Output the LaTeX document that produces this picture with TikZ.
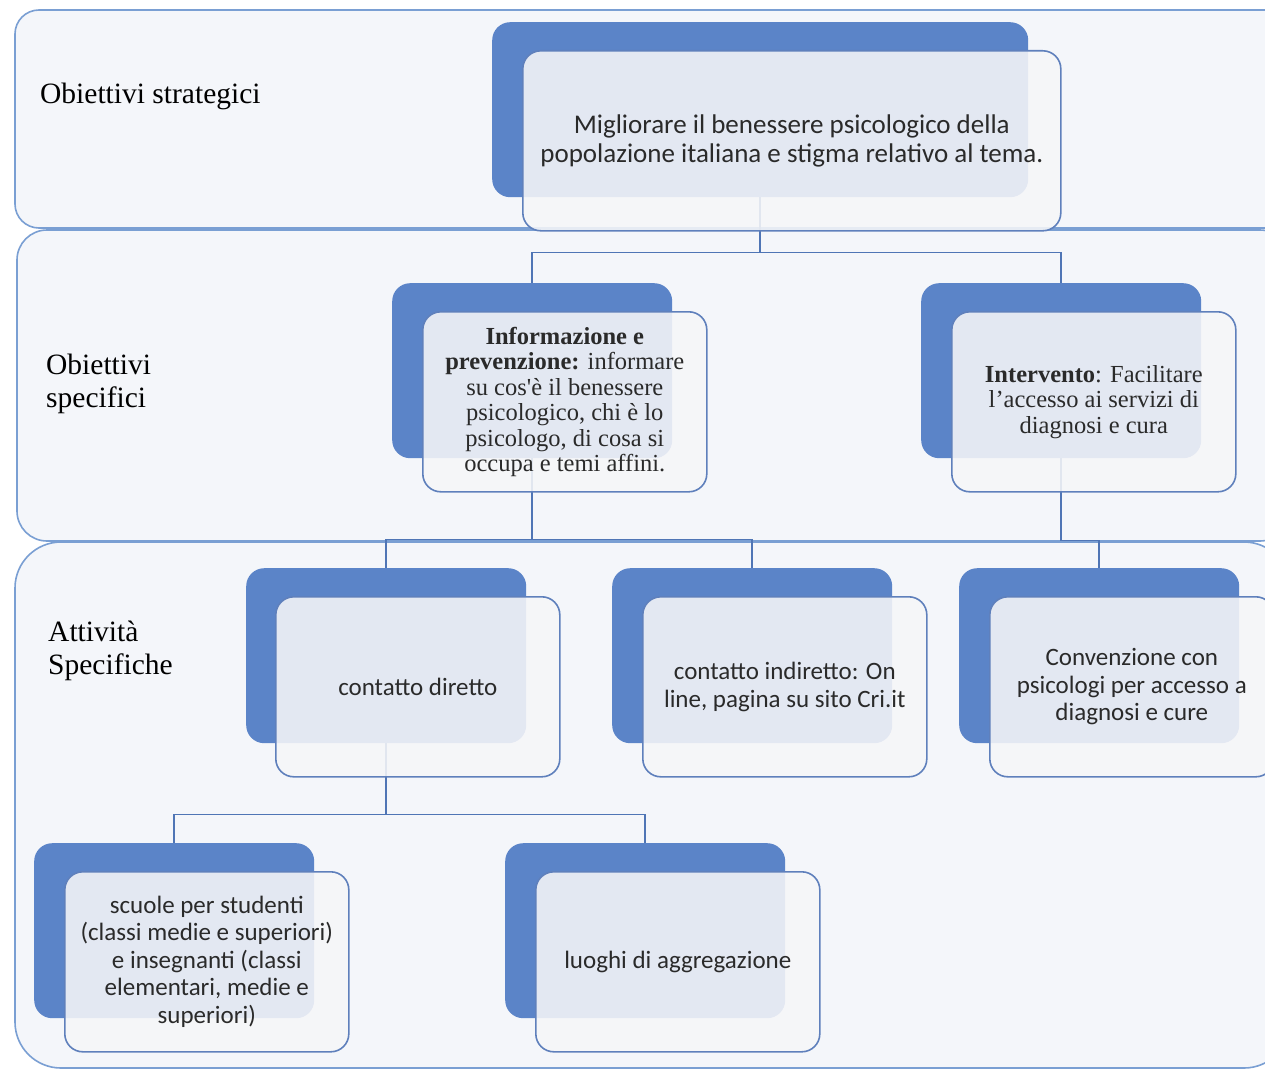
\documentclass[tikz,border=0pt]{standalone}
\usepackage{fontspec}
\setmainfont{Liberation Serif}
\newfontfamily\boxsans{Carlito}
\definecolor{bandfill}{HTML}{F4F6FA}
\definecolor{banddraw}{HTML}{7A9FD3}
\definecolor{darkblue}{HTML}{5B84C8}
\definecolor{frontfill}{HTML}{F6F6F8}
\definecolor{frontdraw}{HTML}{5F80BC}
\definecolor{connblue}{HTML}{4F75B5}
\definecolor{textgray}{HTML}{2A2A2A}
\begin{document}
\begin{tikzpicture}[x=1pt,y=-1pt,
  band/.style={draw=banddraw, fill=bandfill, line width=1.6pt, rounded corners=#1},
  darkbox/.style={fill=darkblue, draw=none, rounded corners=18pt, anchor=north west,
    minimum width=280pt, minimum height=175pt, inner sep=0pt},
  frontbox/.style={fill=frontfill, fill opacity=0.88, text opacity=1, draw=frontdraw,
    line width=1.6pt, rounded corners=18pt, anchor=north west,
    minimum width=284pt, minimum height=180pt, align=center, text=textgray, inner sep=0pt},
  conn/.style={draw=connblue, line width=1.8pt},
  levellabel/.style={anchor=west, align=left, text=black, inner sep=0pt,
    font=\fontsize{29.5}{33}\selectfont},
  serifbox/.style={font=\fontsize{24.5}{25.5}\selectfont},
  sansbox/.style={font=\boxsans\fontsize{25}{27.5}\selectfont}
]
\clip (0,0) rectangle (1265,1070);
\useasboundingbox (0,0) rectangle (1265,1070);
\fill[white] (0,0) rectangle (1265,1070);

% bands
\path[band=24pt] (15,10) rectangle (1290,228);
\path[band=30pt] (17,230) rectangle (1290,541);
\path[band=46pt] (15,542) rectangle (1290,1068);

% level labels
\node[levellabel, anchor=base west] (l1) at (40,103) {Obiettivi strategici};
\node[levellabel] (l2) at (46,384) {Obiettivi\\specifici};
\node[levellabel] (l3) at (48,651) {Attività\\Specifiche};

% dark back boxes
\node[darkbox, minimum width=536pt] (d1) at (492,22) {};
\node[darkbox] (d2) at (392,283) {};
\node[darkbox] (d3) at (921,283) {};
\node[darkbox] (d4) at (246,568) {};
\node[darkbox] (d5) at (612,568) {};
\node[darkbox] (d6) at (959,568) {};
\node[darkbox] (d7) at (34,843) {};
\node[darkbox] (d8) at (505,843) {};

% connectors
\draw[conn] (d1.south) -- ++(0,55) -| (d2.north);
\draw[conn] (d1.south) -- ++(0,55) -| (d3.north);
\draw[conn] (d2.south) -- ++(0,81) -| (d4.north);
\draw[conn] (d2.south) -- ++(0,81) -| (d5.north);
\draw[conn] (d3.south) -- ++(0,82) -| (d6.north);
\draw[conn] (d4.south) -- ++(0,71) -| (d7.north);
\draw[conn] (d4.south) -- ++(0,71) -| (d8.north);

% front boxes
\node[frontbox, minimum width=538pt, font=\boxsans\fontsize{27}{29}\selectfont] (f1) at (522,50)
  {Migliorare il benessere psicologico della\\popolazione italiana e stigma relativo al tema.};
\node[frontbox, serifbox] (f2) at (422,311)
  {{\bfseries Informazione e}\\{\bfseries prevenzione:} informare\\su cos\textquotesingle è il benessere\\psicologico, chi è lo\\psicologo, di cosa si\\occupa e temi affini.};
\node[frontbox, serifbox] (f3) at (951,311)
  {{\bfseries Intervento}: Facilitare\\l’accesso ai servizi di\\diagnosi e cura};
\node[frontbox, sansbox] (f4) at (275,596) {contatto diretto};
\node[frontbox, sansbox] (f5) at (642,596) {contatto indiretto: On\\line, pagina su sito Cri.it};
\node[frontbox, sansbox] (f6) at (989,596) {Convenzione con\\psicologi per accesso a\\diagnosi e cure};
\node[frontbox, sansbox] (f7) at (64,871) {scuole per studenti\\(classi medie e superiori)\\e insegnanti (classi\\elementari, medie e\\superiori)};
\node[frontbox, sansbox] (f8) at (535,871) {luoghi di aggregazione};
\end{tikzpicture}
\end{document}
